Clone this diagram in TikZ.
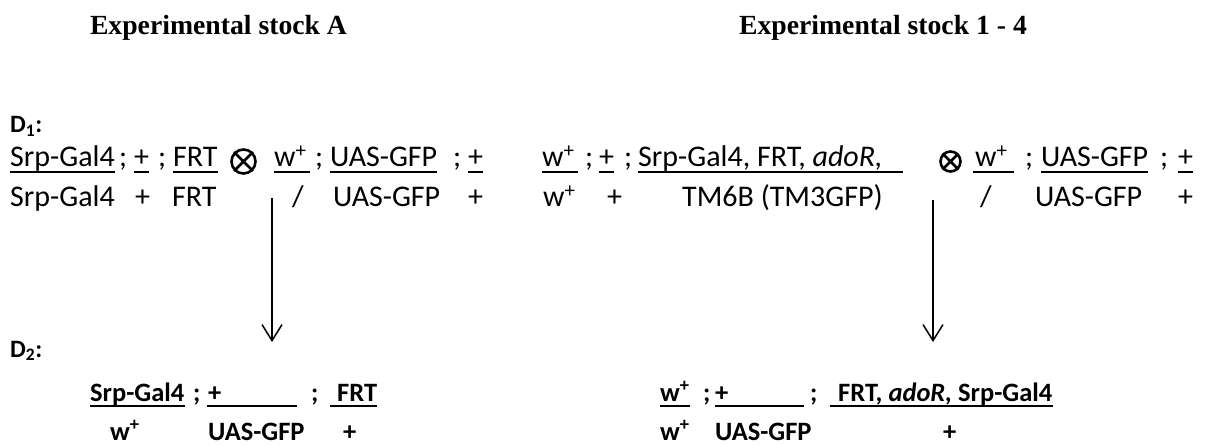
\documentclass[tikz,border=0pt]{standalone}
\usepackage{fontspec}
\setmainfont{Carlito}
\newfontfamily\headserif{Liberation Serif}
\usetikzlibrary{arrows.meta}

\newcommand\rowfont{\fontsize{30}{36}\selectfont}
\newcommand\boldrowfont{\fontsize{26.5}{32}\selectfont\bfseries}
\newcommand\labfont{\fontsize{25}{30}\selectfont\bfseries}
\newcommand\headfont{\headserif\bfseries\fontsize{27.7}{33}\selectfont}
\newcommand\wplus{w\textsuperscript{+}}

\tikzset{
  txt/.style={anchor=base west, inner sep=0pt, font=\rowfont},
  bld/.style={anchor=base west, inner sep=0pt, font=\boldrowfont},
  lab/.style={anchor=base west, inner sep=0pt, font=\labfont},
  head/.style={anchor=base, inner sep=0pt, font=\headfont},
  ul/.style={line width=1.5pt},
  ulb/.style={line width=2.2pt},
  flow/.style={line width=1.5pt, -{Straight Barb[length=16pt,width=20pt,line width=1.5pt]}},
  crosscirc/.style={circle, draw, line width=2.6pt, inner sep=0pt},
  crossline/.style={line width=2.6pt},
}
% bar under a genotype: node name, extra length on the left and on the right
\newcommand\ulnode[3]{\draw[ul] ([xshift=-#2, yshift=-5pt]#1.base west) -- ([xshift=#3, yshift=-5pt]#1.base east);}

\begin{document}
\begin{tikzpicture}[x=1pt,y=-1pt]
\useasboundingbox (0,0) rectangle (1209,446);

% headings
\node[head] (hA) at (218.5,35) {Experimental stock A};
\node[head] (hB) at (883,35) {Experimental stock 1 - 4};

% generation labels
\node[lab] (D1) at (10,133) {D\textsubscript{1}:};
\node[lab] (D2) at (10,357) {D\textsubscript{2}:};

% ---- D1, first cross: upper line
\node[txt] (a1) at (10,167) {Srp-Gal4};
\node[txt] (s1) at (119,167) {;};
\node[txt] (a2) at (134,167) {+};
\node[txt] (s2) at (158,167) {;};
\node[txt] (a3) at (173,167) {FRT};
\node[crosscirc, minimum size=24pt] (x1) at (243.5,161.5) {};
\node[txt] (a4) at (274,167) {\wplus};
\node[txt] (s3) at (315,167) {;};
\node[txt] (a5) at (330,167) {UAS-GFP};
\node[txt] (s4) at (453,167) {;};
\node[txt] (a6) at (468,167) {+};

% ---- D1, first cross: lower line
\node[txt] (c1) at (10,207) {Srp-Gal4};
\node[txt] (c2) at (135,207) {+};
\node[txt] (c3) at (172,207) {FRT};
\node[txt] (c4) at (292,207) {/};
\node[txt] (c5) at (333,207) {UAS-GFP};
\node[txt] (c6) at (468,207) {+};

% ---- D1, second cross: upper line
\node[txt] (b1) at (542,167) {\wplus};
\node[txt] (s5) at (585,167) {;};
\node[txt] (b2) at (599,167) {+};
\node[txt] (s6) at (624,167) {;};
\node[txt] (b3) at (638,167) {Srp-Gal4, FRT, \textit{adoR,}};
\node[crosscirc, minimum size=20pt] (x2) at (950.5,161.5) {};
\node[txt] (b4) at (975,167) {\wplus};
\node[txt] (s7) at (1025,167) {;};
\node[txt] (b5) at (1041,167) {UAS-GFP};
\node[txt] (s8) at (1160,167) {;};
\node[txt] (b6) at (1178,167) {+};

% ---- D1, second cross: lower line
\node[txt] (d1) at (543,207) {\wplus};
\node[txt] (d2) at (607,207) {+};
\node[txt] (d3) at (682,207) {TM6B (TM3GFP)};
\node[txt] (d4) at (980,207) {/};
\node[txt] (d5) at (1035,207) {UAS-GFP};
\node[txt] (d6) at (1178,207) {+};

% crossing signs
\draw[crossline] (x1.north west) -- (x1.south east) (x1.north east) -- (x1.south west);
\draw[crossline] (x2.north west) -- (x2.south east) (x2.north east) -- (x2.south west);

% fraction bars of the D1 genotypes
\ulnode{a1}{0pt}{0pt}
\ulnode{a2}{0pt}{0pt}
\ulnode{a3}{0pt}{0pt}
\ulnode{a4}{0pt}{3pt}
\ulnode{a5}{0pt}{0pt}
\ulnode{a6}{0pt}{0pt}
\ulnode{b1}{0pt}{3pt}
\ulnode{b2}{0pt}{0pt}
\draw[ul] ([yshift=-5pt]b3.base west) -- (903,172);
\ulnode{b4}{2pt}{6pt}
\ulnode{b5}{0pt}{0pt}
\ulnode{b6}{0pt}{0pt}

% progeny arrows
\coordinate (t1) at (272,198);
\coordinate (h1) at (272,342);
\coordinate (t2) at (933,200);
\coordinate (h2) at (933,342);
\draw[flow] (t1) -- (h1);
\draw[flow] (t2) -- (h2);

% ---- D2, left progeny
\node[bld] (e1) at (90,401) {Srp-Gal4};
\node[bld] (e2) at (193,401) {;};
\node[bld] (e3) at (208,401) {+};
\node[bld] (e4) at (311,401) {;};
\node[bld] (e5) at (337,401) {FRT};
\node[bld] (f1) at (110,440) {\wplus};
\node[bld] (f2) at (208,440) {UAS-GFP};
\node[bld] (f3) at (343,440) {+};
\draw[ulb] ([yshift=-5pt]e1.base west) -- ([yshift=-5pt]e1.base east);
\draw[ulb] ([xshift=-1pt, yshift=-5pt]e3.base west) -- (297,406);
\draw[ulb] ([xshift=-7pt, yshift=-5pt]e5.base west) -- ([yshift=-5pt]e5.base east);

% ---- D2, right progeny
\node[bld] (g1) at (660,401) {\wplus};
\node[bld] (g2) at (703,401) {;};
\node[bld] (g3) at (715,401) {+};
\node[bld] (g4) at (810,401) {;};
\node[bld] (g5) at (838,401) {FRT, \textit{adoR,} Srp-Gal4};
\node[bld] (k1) at (660,440) {\wplus};
\node[bld] (k2) at (715,440) {UAS-GFP};
\node[bld] (k3) at (943,440) {+};
\draw[ulb] ([yshift=-5pt]g1.base west) -- ([yshift=-5pt]g1.base east);
\draw[ulb] ([yshift=-5pt]g3.base west) -- (804,406);
\draw[ulb] ([xshift=-8pt, yshift=-5pt]g5.base west) -- ([yshift=-5pt]g5.base east);
\end{tikzpicture}
\end{document}
